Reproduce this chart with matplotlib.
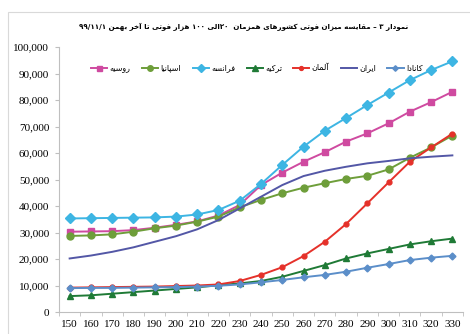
import itertools
import matplotlib
matplotlib.use("Agg")
import matplotlib.pyplot as plt
from matplotlib.patches import Rectangle

# شکل‌های نمایشی حروف: (تنها، پایانی، آغازی، میانی)
FORMS = {
    'ا': ('\uFE8D', '\uFE8E', None, None),
    'آ': ('\uFE81', '\uFE82', None, None),
    'د': ('\uFEA9', '\uFEAA', None, None),
    'ر': ('\uFEAD', '\uFEAE', None, None),
    'ز': ('\uFEAF', '\uFEB0', None, None),
    'و': ('\uFEED', '\uFEEE', None, None),
    'ب': ('\uFE8F', '\uFE90', '\uFE91', '\uFE92'),
    'پ': ('\uFB56', '\uFB57', '\uFB58', '\uFB59'),
    'ت': ('\uFE95', '\uFE96', '\uFE97', '\uFE98'),
    'خ': ('\uFEA5', '\uFEA6', '\uFEA7', '\uFEA8'),
    'س': ('\uFEB1', '\uFEB2', '\uFEB3', '\uFEB4'),
    'ش': ('\uFEB5', '\uFEB6', '\uFEB7', '\uFEB8'),
    'ف': ('\uFED1', '\uFED2', '\uFED3', '\uFED4'),
    'ق': ('\uFED5', '\uFED6', '\uFED7', '\uFED8'),
    'ک': ('\uFB8E', '\uFB8F', '\uFB90', '\uFB91'),
    'ل': ('\uFEDD', '\uFEDE', '\uFEDF', '\uFEE0'),
    'م': ('\uFEE1', '\uFEE2', '\uFEE3', '\uFEE4'),
    'ن': ('\uFEE5', '\uFEE6', '\uFEE7', '\uFEE8'),
    'ه': ('\uFEE9', '\uFEEA', '\uFEEB', '\uFEEC'),
    'ی': ('\uFBFC', '\uFBFD', '\uFBFE', '\uFBFF'),
}


def shape(run):
    out = []
    for i, ch in enumerate(run):
        f = FORMS[ch]
        prev = i > 0 and FORMS[run[i - 1]][2] is not None
        nxt = i < len(run) - 1 and f[2] is not None
        if prev and nxt:
            out.append(f[3])
        elif prev:
            out.append(f[1])
        elif nxt:
            out.append(f[2])
        else:
            out.append(f[0])
    return ''.join(reversed(out))


def fa(text):
    words = []
    for w in text.split(' '):
        runs = [''.join(g) for k, g in itertools.groupby(w, key=lambda c: c in FORMS)]
        runs = [shape(r) if r[0] in FORMS else r for r in runs]
        words.append(''.join(reversed(runs)))
    return ' '.join(reversed(words))


title = 'نمودار ۳ – مقایسه میزان فوتی کشورهای همزمان  ۲۰الی ۱۰۰ هزار فوتی تا آخر بهمن ۹۹/۱۱/۱'

days = [150, 160, 170, 180, 190, 200, 210, 220, 230, 240,
        250, 260, 270, 280, 290, 300, 310, 320, 330]

russia = [30300, 30400, 30500, 30900, 31800, 32900, 34200, 36400, 40400, 47900,
          52600, 56700, 60300, 64300, 67400, 71200, 75600, 79200, 83100]
spain = [28700, 28900, 29300, 30300, 31600, 32600, 34100, 36000, 39500, 42300,
         44800, 46900, 48600, 50200, 51400, 53800, 58200, 62100, 66600]
france = [35300, 35400, 35500, 35600, 35700, 36000, 36800, 38500, 42000, 48300,
          55500, 62400, 68400, 73200, 78100, 82800, 87500, 91300, 94600]
turkey = [6000, 6300, 6900, 7500, 8100, 8700, 9300, 10100, 10800, 11700,
          13300, 15500, 17700, 20200, 22100, 23800, 25500, 26700, 27700]
germany = [9200, 9300, 9400, 9500, 9600, 9800, 10000, 10400, 11700, 14000,
           16900, 21100, 26500, 33200, 41000, 48900, 56700, 62100, 67300]
iran = [20200, 21300, 22700, 24400, 26500, 28600, 31200, 34700, 39100, 43500,
        47900, 51300, 53300, 54800, 56100, 57000, 58000, 58600, 59100]
canada = [9000, 9100, 9100, 9200, 9300, 9400, 9600, 9900, 10400, 11200,
          12100, 13100, 14000, 15200, 16700, 18100, 19600, 20500, 21200]

names = ['روسیه', 'اسپانیا', 'فرانسه', 'ترکیه', 'آلمان', 'ایران', 'کانادا']
series = [russia, spain, france, turkey, germany, iran, canada]
colors = ['#cf4aa0', '#6e9e3a', '#3db5e3', '#1f7a36', '#e5312a', '#5357a6', '#5b8ec9']
markers = ['s', 'o', 'D', '^', 'o', None, 'D']
msizes = [4.5, 5, 5, 5, 3.5, 0, 3.5]

fig = plt.figure(figsize=(4.7, 3.34), dpi=100)
fig.patches.append(Rectangle((8 / 470, -0.1), 1.2, 1.1 - 12 / 334, transform=fig.transFigure,
                             fill=False, edgecolor='#d9d9d9', linewidth=0.8))
ax = fig.add_axes([59 / 470, 22 / 334, 404 / 470, 265 / 334])

for name, vals, c, m, ms in zip(names, series, colors, markers, msizes):
    ax.plot(days, vals, color=c, marker=m, markersize=ms, linewidth=1.4,
            label=fa(name), clip_on=False)

ax.set_xlim(145, 335)
ax.set_ylim(0, 100000)
ax.set_xticks(days)
ax.set_xticks([d - 5 for d in days] + [335], minor=True)
ax.set_yticks(range(0, 100001, 10000))
ax.set_yticklabels([f'{v:,}' for v in range(0, 100001, 10000)])
ax.tick_params(axis='x', which='major', length=0, pad=6)
ax.tick_params(axis='x', which='minor', length=3, color='#bfbfbf')
ax.tick_params(axis='y', length=3, color='#bfbfbf', pad=4)
for lbl in ax.get_xticklabels() + ax.get_yticklabels():
    lbl.set_fontfamily('Liberation Serif')
    lbl.set_fontsize(8)
for s in ['top', 'right']:
    ax.spines[s].set_visible(False)
for s in ['left', 'bottom']:
    ax.spines[s].set_color('#bfbfbf')
    ax.spines[s].set_linewidth(0.8)

ax.legend(loc='upper center', bbox_to_anchor=(0.49, 0.965), ncol=7, frameon=False,
          prop={'family': 'DejaVu Sans', 'size': 5.8}, handlelength=2.0,
          handletextpad=0.3, columnspacing=1.4, markerscale=0.8)

fig.text(244 / 470, 1 - 27 / 334, fa(title), ha='center', va='center',
         fontsize=5.1, fontweight='bold', family='DejaVu Sans')

fig.savefig('out.png', dpi=100)
